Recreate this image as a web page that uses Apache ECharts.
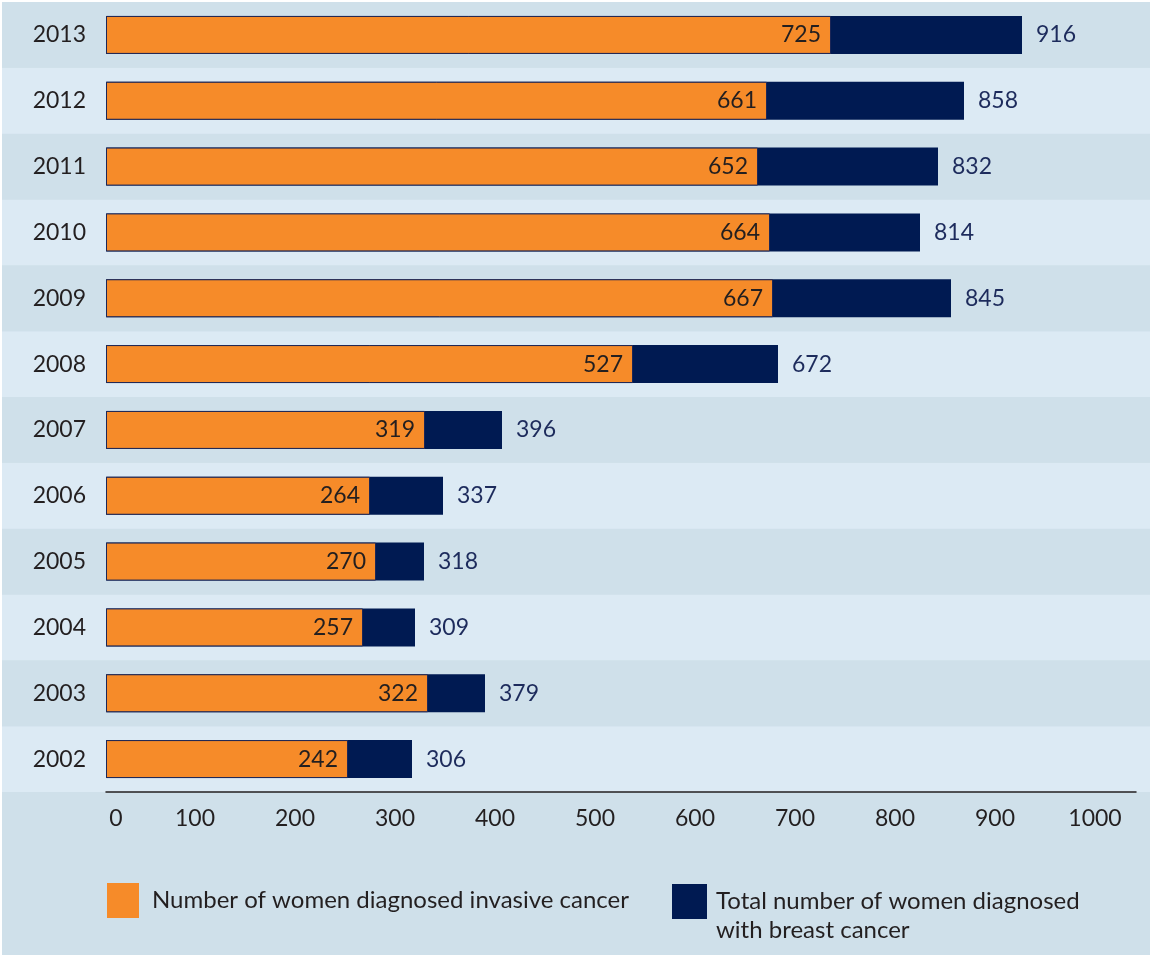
<!DOCTYPE html>
<html>
<head>
<meta charset="utf-8">
<script src="https://cdn.jsdelivr.net/npm/echarts@6/dist/echarts.min.js"></script>
<style>
  html, body { margin: 0; padding: 0; background: #fff; }
  #chart { position: absolute; left: 2px; top: 2px; width: 1148px; height: 953px; }
</style>
</head>
<body>
<div id="chart"></div>
<script>
// data, bottom row first
var years = ['2002', '2003', '2004', '2005', '2006', '2007', '2008', '2009', '2010', '2011', '2012', '2013']
var invasive = [242, 322, 257, 270, 264, 319, 527, 667, 664, 652, 661, 725]
var total = [306, 379, 309, 318, 337, 396, 672, 845, 814, 832, 858, 916]
var invasiveName = 'Number of women diagnosed invasive cancer'
var totalName = 'Total number of women diagnosed with breast cancer'

var FONT = 'Lato'
var TXT = '#231f20'

var myChart = echarts.init(document.getElementById('chart'))
var option = {
  backgroundColor: '#cfe0ea',
  animation: false,
  textStyle: { fontFamily: FONT },
  grid: [
    // full width grid, only for the row bands
    { left: 0, right: 0, top: 0, height: 790 },
    // grid for bars
    { left: 104, top: 0, height: 790, width: 1030 }
  ],
  xAxis: [
    { gridIndex: 0, type: 'value', show: false, min: 0, max: 1 },
    {
      gridIndex: 1,
      type: 'value',
      min: 0,
      max: 1030,
      interval: 100,
      axisLine: { show: true, lineStyle: { color: TXT, width: 1.5 } },
      axisTick: { show: false },
      splitLine: { show: false },
      axisLabel: {
        margin: 15,
        showMaxLabel: false,
        fontFamily: FONT,
        fontSize: 23,
        color: TXT,
        formatter: function (v) {
          return v === 0 ? '{z|0}' : '{n|' + v + '}'
        },
        rich: {
          z: { padding: [0, 0, 0, 20], fontSize: 23, color: TXT, fontFamily: FONT },
          n: { padding: [0, 22, 0, 0], fontSize: 23, color: TXT, fontFamily: FONT }
        }
      }
    }
  ],
  yAxis: [
    {
      gridIndex: 0,
      type: 'category',
      data: years,
      axisLine: { show: false },
      axisTick: { show: false },
      axisLabel: { show: false },
      splitArea: { show: true, areaStyle: { color: ['#dceaf4', '#cfe0ea'] } }
    },
    {
      gridIndex: 1,
      type: 'category',
      data: years,
      axisLine: { show: false },
      axisTick: { show: false },
      axisLabel: { margin: 20, fontFamily: FONT, fontSize: 23, color: TXT }
    }
  ],
  legend: [
    {
      left: 105,
      top: 881,
      padding: 0,
      data: [invasiveName],
      itemWidth: 32,
      itemHeight: 35,
      icon: 'rect',
      selectedMode: false,
      itemStyle: { borderWidth: 0 },
      textStyle: { fontFamily: FONT, fontSize: 24, color: TXT, padding: [0, 0, 0, 8] }
    },
    {
      left: 670,
      top: 856,
      padding: 0,
      data: [totalName],
      itemWidth: 35,
      itemHeight: 35,
      icon: 'rect',
      selectedMode: false,
      itemStyle: { borderWidth: 0 },
      formatter: function () {
        // empty first line keeps the first text line level with the square
        return '\nTotal number of women diagnosed\nwith breast cancer'
      },
      textStyle: { fontFamily: FONT, fontSize: 24, lineHeight: 29, color: TXT, padding: [0, 0, 0, 4] }
    }
  ],
  series: [
    {
      name: totalName,
      type: 'bar',
      xAxisIndex: 1,
      yAxisIndex: 1,
      barWidth: 38,
      itemStyle: { color: '#001a52' },
      label: {
        show: true,
        position: 'right',
        distance: 14,
        fontFamily: FONT,
        fontSize: 23,
        color: '#1d2b5c'
      },
      data: total
    },
    {
      name: invasiveName,
      type: 'bar',
      xAxisIndex: 1,
      yAxisIndex: 1,
      barWidth: 38,
      barGap: '-100%',
      itemStyle: { color: '#f68b29', borderColor: '#1c2657', borderWidth: 1 },
      label: {
        show: true,
        position: 'insideRight',
        distance: 10,
        fontFamily: FONT,
        fontSize: 23,
        color: TXT
      },
      data: invasive
    }
  ]
}
myChart.setOption(option)
</script>
</body>
</html>
